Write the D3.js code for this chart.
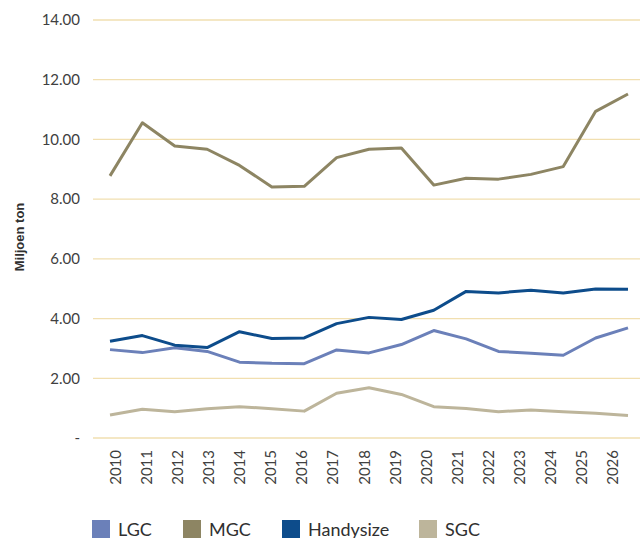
<!DOCTYPE html>
<html>
<head>
<meta charset="utf-8">
<script src="https://d3js.org/d3.v7.min.js"></script>
<style>
  body { margin: 0; background: #fff; }
  svg { display: block; }
</style>
</head>
<body>
<script>
// data
var years = [2010, 2011, 2012, 2013, 2014, 2015, 2016, 2017, 2018, 2019, 2020, 2021, 2022, 2023, 2024, 2025, 2026];
var lgc = [2.96, 2.86, 3.02, 2.90, 2.54, 2.50, 2.49, 2.95, 2.85, 3.13, 3.60, 3.32, 2.90, 2.84, 2.77, 3.35, 3.69];
var mgc = [8.78, 10.56, 9.78, 9.67, 9.13, 8.41, 8.43, 9.39, 9.67, 9.71, 8.47, 8.70, 8.67, 8.83, 9.09, 10.94, 11.52];
var handysize = [3.24, 3.43, 3.11, 3.03, 3.56, 3.33, 3.35, 3.83, 4.04, 3.97, 4.28, 4.91, 4.86, 4.95, 4.86, 4.99, 4.98];
var sgc = [0.77, 0.96, 0.88, 0.98, 1.05, 0.98, 0.90, 1.50, 1.68, 1.46, 1.05, 0.99, 0.88, 0.94, 0.88, 0.83, 0.75];
var yTicks = [0, 2, 4, 6, 8, 10, 12, 14];

var series = [
  {name: "LGC", values: lgc, color: "#6b80b9"},
  {name: "MGC", values: mgc, color: "#8d8563"},
  {name: "Handysize", values: handysize, color: "#0d4c8b"},
  {name: "SGC", values: sgc, color: "#bdb59b"}
];

var W = 640, H = 538;
var svg = d3.select("body").append("svg").attr("width", W).attr("height", H);

var x = d3.scalePoint().domain(years).range([110, 628]);
// the category labels sit on a slightly narrower spacing than the points
var xLab = d3.scalePoint().domain(years).range([115.5, 612]);
var y = d3.scaleLinear().domain([0, 14]).range([438, 20]);

// gridlines
svg.append("g").selectAll("line").data(yTicks).enter().append("line")
  .attr("x1", 93).attr("x2", W)
  .attr("y1", function(d){ return y(d); }).attr("y2", function(d){ return y(d); })
  .attr("stroke", "#f1dfb0").attr("stroke-width", 1.3);

// y axis labels
var yAxis = d3.axisLeft(y).tickValues(yTicks).tickSize(0).tickPadding(0)
  .tickFormat(function(d){ return d === 0 ? "-" : d3.format(".2f")(d); });
var gy = svg.append("g").attr("transform", "translate(80,0)").call(yAxis);
gy.select(".domain").remove();
gy.selectAll("text").attr("font-family", "Lato, sans-serif")
  .attr("font-size", 15).attr("fill", "#404040");

// x axis labels
var xAxis = d3.axisBottom(xLab).tickSize(0).tickPadding(0);
var gx = svg.append("g").attr("transform", "translate(0,450)").call(xAxis);
gx.select(".domain").remove();
gx.selectAll("text")
  .attr("font-family", "Lato, sans-serif")
  .attr("font-size", 15).attr("fill", "#404040")
  .attr("transform", "rotate(-90)")
  .attr("text-anchor", "end")
  .attr("x", 0).attr("y", 0).attr("dx", 0).attr("dy", "0.35em");

// y title
svg.append("text")
  .attr("transform", "translate(24,237) rotate(-90)")
  .attr("text-anchor", "middle")
  .attr("font-family", "Liberation Sans, Arial, sans-serif")
  .attr("font-size", 13).attr("font-weight", "bold").attr("fill", "#303030")
  .text("Miljoen ton");

// lines
var line = d3.line()
  .x(function(d, i){ return x(years[i]); })
  .y(function(d){ return y(d); });

svg.append("g").selectAll("path").data(series).enter().append("path")
  .attr("d", function(s){ return line(s.values); })
  .attr("fill", "none")
  .attr("stroke", function(s){ return s.color; })
  .attr("stroke-width", 3)
  .attr("stroke-linejoin", "round");

// legend
var legendX = [92, 183, 282, 419];
var lg = svg.append("g").selectAll("g").data(series).enter().append("g")
  .attr("transform", function(d, i){ return "translate(" + legendX[i] + ",520)"; });
lg.append("rect").attr("width", 18).attr("height", 18)
  .attr("fill", function(d){ return d.color; });
lg.append("text").attr("x", 26).attr("y", 16)
  .attr("font-family", "Lato, Open Sans, sans-serif")
  .attr("font-size", 18).attr("fill", "#303030")
  .text(function(d){ return d.name; });
</script>
</body>
</html>
